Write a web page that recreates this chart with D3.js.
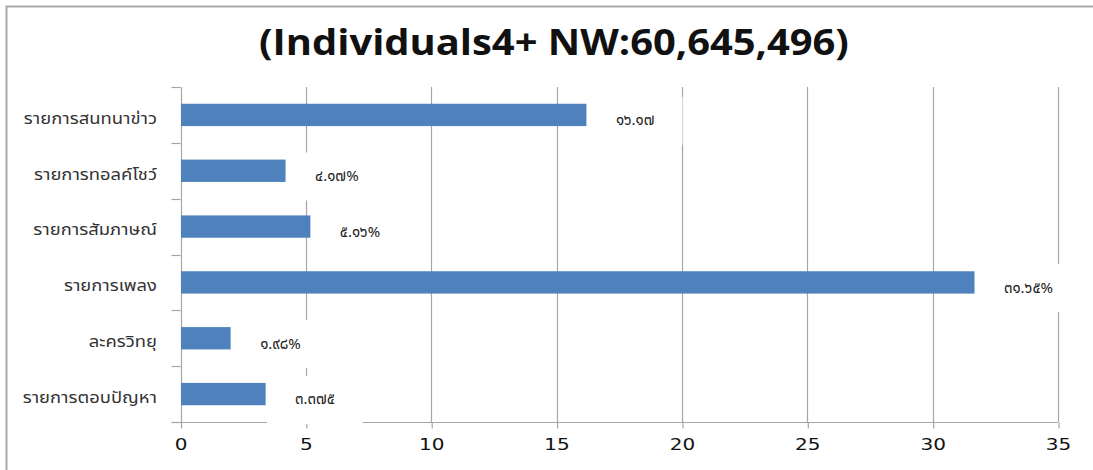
<!DOCTYPE html>
<html>
<head>
<meta charset="utf-8">
<script src="https://cdnjs.cloudflare.com/ajax/libs/d3/7.8.5/d3.min.js"></script>
<style>
    body { margin: 0; background: #fff; }
    svg { display: block; }
</style>
</head>
<body>
<div id="chart"></div>
<script>
var titleText = "(Individuals4+ NW:60,645,496)";
var categories = ["รายการสนทนาข่าว", "รายการทอลค์โชว์", "รายการสัมภาษณ์", "รายการเพลง", "ละครวิทยุ", "รายการตอบปัญหา"];
var values = [16.17, 4.17, 5.16, 31.65, 1.98, 3.375];
var valueLabels = ["๑๖.๑๗", "๔.๑๗%", "๕.๑๖%", "๓๑.๖๕%", "๑.๙๘%", "๓.๓๗๕"];
var xTicks = [0, 5, 10, 15, 20, 25, 30, 35];

var width = 1093;
var height = 470;
var margin = { top: 87, right: 35, bottom: 48, left: 180.5 };

var svg = d3.select("#chart").append("svg")
    .attr("width", width)
    .attr("height", height);

// outer frame (only top and left edges show)
svg.append("path")
    .attr("d", "M6.5," + height + "V6.5H" + width)
    .style("fill", "none")
    .style("stroke", "#a9a9a9")
    .style("stroke-width", 2);

// the source picture is stretched sideways a little, so text is widened too
svg.append("text")
    .attr("transform", "translate(554,54.5) scale(1.14,1)")
    .attr("text-anchor", "middle")
    .style("font-family", "'Open Sans', sans-serif")
    .style("font-weight", "bold")
    .style("font-size", "35px")
    .style("fill", "#111")
    .text(titleText);

var x = d3.scaleLinear()
    .domain([0, 35])
    .range([margin.left, width - margin.right]);

var y = d3.scaleBand()
    .domain(categories)
    .range([margin.top, height - margin.bottom])
    .paddingInner(0.6)
    .paddingOuter(0.3);

var plotBottom = height - margin.bottom;

// vertical gridlines
svg.append("g")
    .attr("class", "grid")
    .selectAll("line")
    .data(xTicks)
    .enter().append("line")
    .attr("x1", function(d) { return Math.round(x(d)) + 0.5; })
    .attr("x2", function(d) { return Math.round(x(d)) + 0.5; })
    .attr("y1", margin.top)
    .attr("y2", plotBottom)
    .style("stroke", "#a6a6a6")
    .style("stroke-width", 1.2);

// x axis
var xAxis = svg.append("g")
    .attr("transform", "translate(0," + (Math.round(plotBottom) + 0.5) + ")")
    .call(d3.axisBottom(x).tickValues(xTicks).tickSize(6).tickPadding(6).tickSizeOuter(0));
xAxis.select(".domain").remove();
xAxis.append("line")
    .attr("x1", margin.left - 9)
    .attr("x2", x(35))
    .style("stroke", "#a6a6a6")
    .style("stroke-width", 1.2);
xAxis.selectAll(".tick line")
    .attr("x1", 0.5).attr("x2", 0.5)
    .style("stroke", "#a6a6a6")
    .style("stroke-width", 1.2);
xAxis.selectAll(".tick text")
    .attr("transform", "scale(1.25,1)")
    .attr("y", 16)
    .style("font-family", "'DejaVu Sans', sans-serif")
    .style("font-size", "16px")
    .style("fill", "#111");

// category ticks at band boundaries
var boundaries = d3.range(categories.length + 1).map(function(i) { return margin.top + i * (plotBottom - margin.top) / categories.length; });
svg.append("g")
    .selectAll("line")
    .data(boundaries)
    .enter().append("line")
    .attr("x1", margin.left - 9)
    .attr("x2", margin.left)
    .attr("y1", function(d) { return Math.round(d) + 0.5; })
    .attr("y2", function(d) { return Math.round(d) + 0.5; })
    .style("stroke", "#a6a6a6")
    .style("stroke-width", 1.2);

// category labels
svg.append("g")
    .selectAll("text")
    .data(categories)
    .enter().append("text")
    .attr("transform", function(d) { return "translate(157," + (y(d) + y.bandwidth() / 2) + ") scale(1.15,1)"; })
    .attr("dy", "0.55em")
    .attr("text-anchor", "end")
    .style("font-family", "Tahoma, 'Noto Sans Thai', sans-serif")
    .style("font-size", "16px")
    .style("fill", "#333")
    .text(function(d) { return d; });

// bars
svg.append("g")
    .selectAll("rect")
    .data(values)
    .enter().append("rect")
    .attr("x", x(0) + 0.5)
    .attr("y", function(d, i) { return y(categories[i]); })
    .attr("width", function(d) { return x(d) - x(0); })
    .attr("height", y.bandwidth())
    .style("fill", "#4f81bd");

// data labels with white boxes over the grid
var labels = svg.append("g")
    .selectAll("g")
    .data(values)
    .enter().append("g");

labels.append("rect").style("fill", "#fff");

labels.append("text")
    .attr("x", function(d) { return x(d) + 30; })
    .attr("y", function(d, i) { return y(categories[i]) + y.bandwidth() / 2 + 5; })
    .attr("dy", "0.35em")
    .style("font-family", "Tahoma, 'Noto Sans Thai', sans-serif")
    .style("font-size", "15px")
    .style("fill", "#222")
    .text(function(d, i) { return valueLabels[i]; });

labels.each(function() {
    var g = d3.select(this);
    var b = g.select("text").node().getBBox();
    var cy = b.y + b.height / 2;
    g.select("rect")
        .attr("x", b.x - 28)
        .attr("y", cy - 24)
        .attr("width", b.width + 56)
        .attr("height", 48);
});
</script>
</body>
</html>
